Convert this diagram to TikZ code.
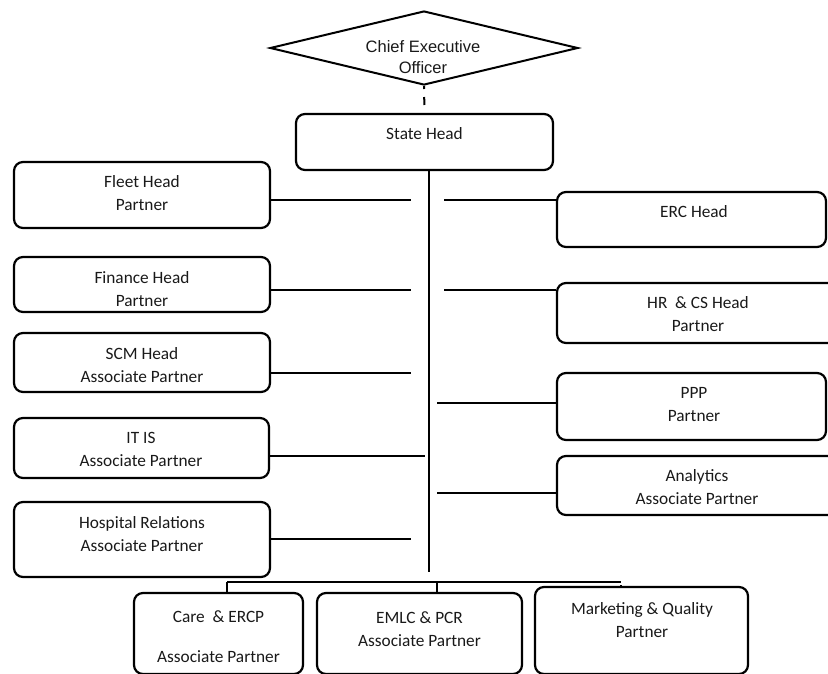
\documentclass[tikz,border=0pt]{standalone}
\usepackage{fontspec}
\setmainfont{Carlito}
\newfontfamily\ceofont{Liberation Sans}
\usetikzlibrary{shapes.geometric}

\tikzset{
  unitbox/.style={draw, line width=2.2pt, rounded corners=9pt, inner sep=0pt},
  lbl/.style={inner sep=0pt, align=center, text=black!90,
              font=\fontsize{17.3}{23}\selectfont},
  wire/.style={line width=2pt},
}

\begin{document}
\begin{tikzpicture}[x=1pt, y=-1pt]
\useasboundingbox (0,0) rectangle (828,673);
\clip (0,0) rectangle (828,673);

% top of the chart
\node[diamond, draw, line width=2pt, minimum width=308pt, minimum height=74pt,
      inner sep=0pt] (ceo) at (424,48) {};
\node[lbl, font=\ceofont\fontsize{16.5}{21}\selectfont] (ceo-t) at (423,57)
  {Chief Executive\\Officer};

\node[unitbox, minimum width=257pt, minimum height=56pt] (state) at (424.5,142) {};
\node[lbl] (state-t) at (424.5,134) {State Head};

% left column
\node[unitbox, minimum width=256pt, minimum height=66pt] (fleet) at (142,195) {};
\node[lbl] (fleet-t) at (142,193.5) {Fleet Head\\Partner};
\node[unitbox, minimum width=256pt, minimum height=55pt] (fin) at (142,284.5) {};
\node[lbl] (fin-t) at (142,289.5) {Finance Head\\Partner};
\node[unitbox, minimum width=256pt, minimum height=59pt] (scm) at (142,362.5) {};
\node[lbl] (scm-t) at (142,365) {SCM Head\\Associate Partner};
\node[unitbox, minimum width=255pt, minimum height=60pt] (itis) at (141.5,448) {};
\node[lbl] (itis-t) at (141,449.5) {IT IS\\Associate Partner};
\node[unitbox, minimum width=256pt, minimum height=75pt] (hosp) at (142,539.5) {};
\node[lbl] (hosp-t) at (142,534) {Hospital Relations\\Associate Partner};

% right column
\node[unitbox, minimum width=269pt, minimum height=55pt] (erc) at (691.5,219.5) {};
\node[lbl] (erc-t) at (694,212) {ERC Head};
\node[unitbox, minimum width=290pt, minimum height=60pt] (hr) at (702,313) {};
\node[lbl] (hr-t) at (698,314) {HR\ \ \& CS Head\\Partner};
\node[unitbox, minimum width=269pt, minimum height=67pt] (ppp) at (691.5,406.5) {};
\node[lbl] (ppp-t) at (694,404.5) {PPP\\Partner};
\node[unitbox, minimum width=290pt, minimum height=59pt] (ana) at (702,485.5) {};
\node[lbl] (ana-t) at (697,487) {Analytics\\Associate Partner};

% bottom row
\node[unitbox, minimum width=169pt, minimum height=81pt] (care) at (218.5,633.5) {};
\node[lbl, font=\fontsize{17.3}{20}\selectfont] (care-t) at (218.5,637)
  {Care\ \ \& ERCP\\\strut\\Associate Partner};
\node[unitbox, minimum width=205pt, minimum height=81pt] (emlc) at (419.5,633.5) {};
\node[lbl] (emlc-t) at (419.5,629) {EMLC \& PCR\\Associate Partner};
\node[unitbox, minimum width=213pt, minimum height=87pt] (mkt) at (641.5,630.5) {};
\node[lbl] (mkt-t) at (642,620.5) {Marketing \& Quality\\Partner};

% junction points beside the trunk
\coordinate (trunk-bot) at (429,572);
\coordinate (fleet-j) at (411,200);
\coordinate (fin-j)   at (411,290);
\coordinate (scm-j)   at (411,373);
\coordinate (itis-j)  at (425,456);
\coordinate (hosp-j)  at (411,539);
\coordinate (erc-j)   at (444,200);
\coordinate (hr-j)    at (444,290);
\coordinate (ppp-j)   at (437,403);
\coordinate (ana-j)   at (437,493);
\coordinate (bus-l)   at (227,582);
\coordinate (bus-m)   at (437,582);
\coordinate (bus-r)   at (621,582);

% connectors
\draw[line width=2pt, dash pattern=on 3pt off 8pt on 8pt off 20pt] (ceo.south) -- (state.north);
\draw[wire] (state.south -| trunk-bot) -- (trunk-bot);

\draw[wire] (fleet-j -| fleet.east) -- (fleet-j);
\draw[wire] (fin-j -| fin.east) -- (fin-j);
\draw[wire] (scm-j -| scm.east) -- (scm-j);
\draw[wire] (itis-j -| itis.east) -- (itis-j);
\draw[wire] (hosp-j -| hosp.east) -- (hosp-j);

\draw[wire] (erc-j) -- (erc-j -| erc.west);
\draw[wire] (hr-j) -- (hr-j -| hr.west);
\draw[wire] (ppp-j) -- (ppp-j -| ppp.west);
\draw[wire] (ana-j) -- (ana-j -| ana.west);

\draw[line width=2.4pt] (bus-l) -- (bus-r);
\draw[wire] (bus-l) -- (bus-l |- care.north);
\draw[wire] (bus-m) -- (bus-m |- emlc.north);
\draw[wire] ([yshift=-3pt]bus-r) -- (bus-r |- mkt.north);
\end{tikzpicture}
\end{document}
